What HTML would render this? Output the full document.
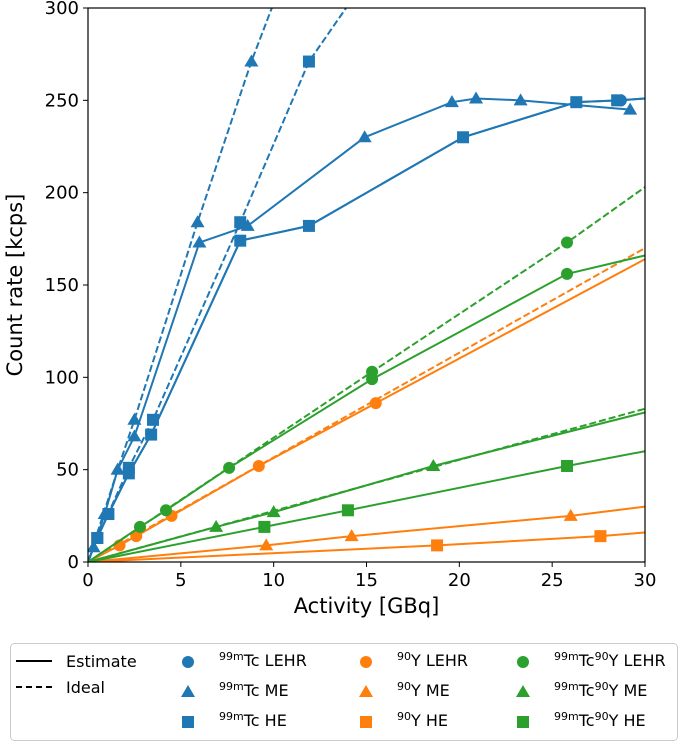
<!DOCTYPE html>
<html><head><meta charset="utf-8"><style>
body{margin:0;background:#fff;width:685px;height:744px;overflow:hidden;font-family:"DejaVu Sans","Liberation Sans",sans-serif}
svg{display:block}
</style></head><body>
<svg id="chart" width="685" height="744" font-family="DejaVu Sans, Liberation Sans, sans-serif">
<g id="plot"></g>
<g id="axes"></g>
<g id="legend">
 <rect x="10.5" y="643.5" width="667" height="97" rx="4" fill="#fff" stroke="#ccc"/>
 <g><line x1="16" y1="661" x2="52" y2="661" stroke="#000" stroke-width="2"/><text x="66" y="667" font-size="16">Estimate</text></g>
 <g><line x1="16" y1="687" x2="52" y2="687" stroke="#000" stroke-width="2" stroke-dasharray="6,4"/><text x="66" y="693" font-size="16">Ideal</text></g>
</g>
</svg>
<script>
const categories=["Tc LEHR","Tc ME","Tc HE","Y LEHR","Y ME","Y HE","TcY LEHR","TcY ME","TcY HE"];
const tcLehrX=[0,0.5,1.1,2.2,3.4,8.2,11.9,20.2,26.3,28.7,30];
const tcLehrY=[0,13,26,48,69,174,182,230,249,250,251];
const tcMeX=[0,0.3,0.9,1.6,2.5,6.0,8.6,14.9,19.6,20.9,23.3,29.2];
const tcMeY=[0,8,26,50,68,173,182,230,249,251,250,245];
const tcMeIdealX=[0,1.6,2.5,5.9,8.8,9.9];
const tcMeIdealY=[0,50,77,184,271,300];
const tcHeX=[0,0.5,1.1,2.2,3.4,8.2,11.9,20.2,26.3,28.5,30];
const tcHeY=[0,13,26,48,69,174,182,230,249,250,251];
const tcHeIdealX=[0,0.5,2.2,3.5,8.2,11.9,13.9];
const tcHeIdealY=[0,13,51,77,184,271,300];
const yLehrX=[0,1.7,2.6,4.5,9.2,15.5,30];
const yLehrY=[0,9,14,25,52,86,164];
const yLehrIdealEnd=170;
const yMeX=[0,9.6,14.2,26,30];
const yMeY=[0,9,14,25,30];
const yHeX=[0,18.8,27.6,30];
const yHeY=[0,9,14,16];
const tcyLehrX=[0,2.8,4.2,7.6,15.3,25.8,30];
const tcyLehrY=[0,19,28,51,99,156,166];
const tcyLehrIdealX=[0,15.3,25.8,30];
const tcyLehrIdealY=[0,103,173,203];
const tcyMeX=[0,6.9,10,18.6,30];
const tcyMeY=[0,19,27,52,81];
const tcyMeIdealEnd=83;
const tcyHeX=[0,9.5,14,25.8,30];
const tcyHeY=[0,19,28,52,60];
const xTicks=[0,5,10,15,20,25,30];
const yTicks=[0,50,100,150,200,250,300];

const X0=88,X1=645,Y0=562,Y1=8;
const sx=v=>X0+(v-0)/30*(X1-X0);
const sy=v=>Y0-(v/300)*(Y0-Y1);
const NS="http://www.w3.org/2000/svg";
const plot=document.getElementById('plot');
const axes=document.getElementById('axes');
const B="#1f77b4",O="#ff7f0e",G="#2ca02c";
function mk(tag,attrs,parent){const e=document.createElementNS(NS,tag);for(const k in attrs)e.setAttribute(k,attrs[k]);parent.appendChild(e);return e;}
function clip(){const d=mk('defs',{},plot);const c=mk('clipPath',{id:'pc'},d);mk('rect',{x:X0,y:Y1,width:X1-X0,height:Y0-Y1},c);}
clip();
const g=mk('g',{'clip-path':'url(#pc)'},plot);
function line(xs,ys,color,dash,name){
 const p=mk('polyline',{points:xs.map((x,i)=>sx(x)+','+sy(ys[i])).join(' '),fill:'none',stroke:color,'stroke-width':2},g);
 if(dash)p.setAttribute('stroke-dasharray','7,3');
 
 
}
function marker(shape,x,y,color,parent,name){
 let e;
 if(shape==='o')e=mk('circle',{cx:x,cy:y,r:6,fill:color},parent);
 else if(shape==='^')e=mk('polygon',{points:`${x},${y-7} ${x-7},${y+5} ${x+7},${y+5}`,fill:color},parent);
 else e=mk('rect',{x:x-6,y:y-6,width:12,height:12,fill:color},parent);
 
 
}
function marks(xs,ys,shape,color,name){xs.forEach((x,i)=>{if(x===0)return;if(ys[i]>=300&&i===xs.length-1)return;marker(shape,sx(x),sy(ys[i]),color,g,name);});}
// blue
line(tcMeIdealX,tcMeIdealY,B,true,'tc-me-ideal-line');
line(tcHeIdealX,tcHeIdealY,B,true,'tc-he-ideal-line');
line(tcMeX,tcMeY,B,false,'tc-me-estimate-line');
line(tcHeX,tcHeY,B,false,'tc-he-estimate-line');
line(tcLehrX,tcLehrY,B,false,'tc-lehr-estimate-line');
marks(tcMeIdealX,tcMeIdealY,'^',B,'tc-me-ideal-point');
marks(tcHeIdealX,tcHeIdealY,'s',B,'tc-he-ideal-point');
marks(tcMeX,tcMeY,'^',B,'tc-me-point');
marks(tcHeX.slice(0,-1),tcHeY.slice(0,-1),'s',B,'tc-he-point');
marker('o',sx(tcLehrX[9]),sy(tcLehrY[9]),B,g,'tc-lehr-point');
// orange
line([0,30],[0,yLehrIdealEnd],O,true,'y-lehr-ideal-line');
line(yLehrX,yLehrY,O,false,'y-lehr-estimate-line');
line(yMeX,yMeY,O,false,'y-me-estimate-line');
line(yHeX,yHeY,O,false,'y-he-estimate-line');
marks(yLehrX.slice(0,-1),yLehrY.slice(0,-1),'o',O,'y-lehr-point');
marks(yMeX.slice(0,-1),yMeY.slice(0,-1),'^',O,'y-me-point');
marks(yHeX.slice(0,-1),yHeY.slice(0,-1),'s',O,'y-he-point');
// green
line(tcyLehrIdealX,tcyLehrIdealY,G,true,'tcy-lehr-ideal-line');
line(tcyLehrX,tcyLehrY,G,false,'tcy-lehr-estimate-line');
line([0,30],[0,tcyMeIdealEnd],G,true,'tcy-me-ideal-line');
line(tcyMeX,tcyMeY,G,false,'tcy-me-estimate-line');
line(tcyHeX,tcyHeY,G,false,'tcy-he-estimate-line');
marks(tcyLehrX.slice(0,-1),tcyLehrY.slice(0,-1),'o',G,'tcy-lehr-point');
marks(tcyLehrIdealX.slice(1,3),tcyLehrIdealY.slice(1,3),'o',G,'tcy-lehr-ideal-point');
marks(tcyMeX.slice(0,-1),tcyMeY.slice(0,-1),'^',G,'tcy-me-point');
marks(tcyHeX.slice(0,-1),tcyHeY.slice(0,-1),'s',G,'tcy-he-point');
// axes
const fr=mk('rect',{x:X0,y:Y1,width:X1-X0,height:Y0-Y1,fill:'none',stroke:'#000','stroke-width':1.2},axes);

xTicks.forEach(t=>{mk('line',{x1:sx(t),y1:Y0,x2:sx(t),y2:Y0+5,stroke:'#000'},axes);
 const tx=mk('text',{x:sx(t),y:Y0+24,'font-size':18,'text-anchor':'middle'},axes);tx.textContent=t;
 });
yTicks.forEach(t=>{mk('line',{x1:X0-5,y1:sy(t),x2:X0,y2:sy(t),stroke:'#000'},axes);
 const tx=mk('text',{x:X0-9,y:sy(t)+6,'font-size':18,'text-anchor':'end'},axes);tx.textContent=t;
 });
const xt=mk('text',{x:(X0+X1)/2,y:613,'font-size':21,'text-anchor':'middle'},axes);xt.textContent='Activity [GBq]';

const yt=mk('text',{x:22,y:(Y0+Y1)/2,'font-size':21,'text-anchor':'middle',transform:`rotate(-90 22 ${(Y0+Y1)/2})`},axes);yt.textContent='Count rate [kcps]';

// legend
const leg=document.getElementById('legend');
const cols=[[188,B,'Tc'],[366,O,'Y'],[523,G,'TcY']];
const rows=[['o','LEHR',662],['^','ME',692],['s','HE',722]];
cols.forEach(([cx,col,iso])=>rows.forEach(([sh,lab,ry])=>{
 marker(sh,cx,ry,col,leg,'legend-marker');
 const t=mk('text',{x:cx+31,y:ry+4,'font-size':16},leg);
 const sup=(s)=>{const a=mk('tspan',{'font-size':11,dy:-6},t);a.textContent=s;return a;};
 const base=(s)=>{const a=mk('tspan',{'font-size':16,dy:6},t);a.textContent=s;return a;};
 if(iso==='Tc'){sup('99m');base('Tc '+lab);}
 else if(iso==='Y'){sup('90');base('Y '+lab);}
 else{sup('99m');base('Tc');sup('90');base('Y '+lab);}
 
}));
</script>
</body></html>
